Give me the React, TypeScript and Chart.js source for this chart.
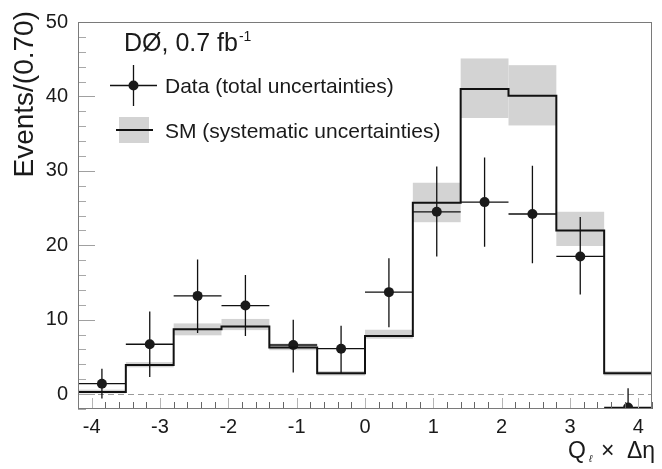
import React, { useEffect, useRef } from "react";
import { Chart, registerables } from "chart.js";

Chart.register(...registerables);

// ---- data ----
const binEdges = [-4.2, -3.5, -2.8, -2.1, -1.4, -0.7, 0, 0.7, 1.4, 2.1, 2.8, 3.5, 4.2];
const smValues = [0.3, 3.9, 8.7, 9.1, 6.25, 2.8, 7.8, 25.7, 41.0, 40.1, 22.0, 2.8];
const smLow = [0.1, 3.6, 7.9, 8.6, 5.9, 2.5, 7.45, 23.1, 37.1, 36.1, 19.9, 2.5];
const smHigh = [0.6, 4.3, 9.5, 10.1, 6.8, 3.1, 8.65, 28.4, 45.1, 44.2, 24.5, 3.1];
const dataValues = [1.4, 6.7, 13.2, 11.9, 6.6, 6.1, 13.7, 24.5, 25.8, 24.2, 18.5, -1.8];
const dataLow = [-0.6, 2.3, 8.2, 7.8, 2.9, 2.8, 9.0, 18.5, 19.8, 17.6, 13.4, -4.0];
const dataHigh = [3.4, 11.1, 18.1, 16.0, 10.0, 9.2, 18.25, 30.6, 31.8, 30.7, 23.8, 0.8];
const xTickValues = [-4, -3, -2, -1, 0, 1, 2, 3, 4];
const yTickValues = [0, 10, 20, 30, 40, 50];

const X_MIN = -4.2;
const X_MAX = 4.2;
const Y_MIN = -2;
const Y_MAX = 50;

const FONT = '"Liberation Sans", Arial, Helvetica, sans-serif';

const binCenters = binEdges.slice(0, -1).map((e, i) => (e + binEdges[i + 1]) / 2);

const decorPlugin = {
  id: "decor",
  beforeDatasetsDraw(chart: any) {
    const { ctx, chartArea: a, scales } = chart;
    const x = scales.x;
    const y = scales.y;
    ctx.save();
    ctx.beginPath();
    ctx.rect(a.left, a.top, a.right - a.left, a.bottom - a.top);
    ctx.clip();
    // systematic bands
    ctx.fillStyle = "#d3d3d3";
    for (let i = 0; i < smValues.length; i++) {
      const x0 = x.getPixelForValue(binEdges[i]);
      const x1 = x.getPixelForValue(binEdges[i + 1]);
      const yh = y.getPixelForValue(smHigh[i]);
      const yl = y.getPixelForValue(smLow[i]);
      ctx.fillRect(x0, yh, x1 - x0, yl - yh);
    }
    // dashed zero line
    const y0 = Math.round(y.getPixelForValue(0)) + 0.5;
    ctx.strokeStyle = "#9a9a9a";
    ctx.lineWidth = 1;
    ctx.setLineDash([6, 4]);
    ctx.beginPath();
    ctx.moveTo(a.left, y0);
    ctx.lineTo(a.right, y0);
    ctx.stroke();
    ctx.setLineDash([]);
    // error bars
    ctx.strokeStyle = "#111";
    ctx.lineWidth = 1.3;
    for (let i = 0; i < dataValues.length; i++) {
      const cx = x.getPixelForValue(binCenters[i]);
      const cy = y.getPixelForValue(dataValues[i]);
      ctx.beginPath();
      ctx.moveTo(cx, y.getPixelForValue(dataLow[i]));
      ctx.lineTo(cx, y.getPixelForValue(dataHigh[i]));
      ctx.moveTo(x.getPixelForValue(binEdges[i]), cy);
      ctx.lineTo(x.getPixelForValue(binEdges[i + 1]), cy);
      ctx.stroke();
    }
    ctx.restore();
  },
  afterDraw(chart: any) {
    const { ctx, chartArea: a, scales } = chart;
    const x = scales.x;
    const y = scales.y;
    ctx.save();
    // y ticks (inside)
    ctx.lineWidth = 1;
    for (let k = 0; k <= 26; k++) {
      const v = Y_MIN + 2 * k;
      const py = Math.round(y.getPixelForValue(v)) + 0.5;
      const major = v % 10 === 0;
      ctx.strokeStyle = major ? "#a0a0a0" : "#a8a8a8";
      ctx.beginPath();
      ctx.moveTo(a.left, py);
      ctx.lineTo(a.left + (major ? 17 : 8), py);
      ctx.stroke();
    }
    // x ticks (inside)
    for (let k = 0; k <= 42; k++) {
      const v = Math.round((X_MIN + 0.2 * k) * 10) / 10;
      const px = Math.round(x.getPixelForValue(v)) + 0.5;
      const major = Math.abs(v - Math.round(v)) < 1e-6;
      ctx.strokeStyle = major ? "#b5b5b5" : "#666";
      ctx.beginPath();
      ctx.moveTo(px, a.bottom);
      ctx.lineTo(px, a.bottom - (major ? 11 : 7));
      ctx.stroke();
    }
    // frame
    ctx.strokeStyle = "#7a7a7a";
    ctx.lineWidth = 1;
    ctx.strokeRect(a.left + 0.5, a.top + 0.5, a.right - a.left - 1, a.bottom - a.top - 1);

    // texts
    ctx.fillStyle = "#1a1a1a";
    ctx.textBaseline = "alphabetic";
    ctx.textAlign = "left";
    ctx.font = `25px ${FONT}`;
    ctx.fillText("DØ, 0.7 fb", 124, 51);
    const w = ctx.measureText("DØ, 0.7 fb").width;
    ctx.font = `14px ${FONT}`;
    ctx.fillText("-1", 124 + w + 1, 41);

    // legend: data
    ctx.strokeStyle = "#111";
    ctx.lineWidth = 1.3;
    ctx.beginPath();
    ctx.moveTo(110, 85.5);
    ctx.lineTo(157, 85.5);
    ctx.moveTo(133.5, 65);
    ctx.lineTo(133.5, 106);
    ctx.stroke();
    ctx.fillStyle = "#1a1a1a";
    ctx.beginPath();
    ctx.arc(133.5, 85.5, 5, 0, Math.PI * 2);
    ctx.fill();
    ctx.font = `21px ${FONT}`;
    ctx.fillText("Data (total uncertainties)", 165, 93);

    // legend: SM
    ctx.fillStyle = "#d3d3d3";
    ctx.fillRect(119, 117, 30, 26);
    ctx.strokeStyle = "#111";
    ctx.lineWidth = 2;
    ctx.beginPath();
    ctx.moveTo(116, 130);
    ctx.lineTo(153, 130);
    ctx.stroke();
    ctx.fillStyle = "#1a1a1a";
    ctx.fillText("SM (systematic uncertainties)", 165, 138);

    // y title
    ctx.save();
    ctx.translate(33, 11);
    ctx.rotate(-Math.PI / 2);
    ctx.textAlign = "right";
    ctx.font = `28px ${FONT}`;
    ctx.fillText("Events/(0.70)", 0, 0);
    ctx.restore();

    // x title
    ctx.textAlign = "left";
    ctx.font = `23px ${FONT}`;
    ctx.fillText("Q", 568, 458);
    ctx.font = `italic 10px ${FONT}`;
    ctx.fillText("ℓ", 589, 462);
    ctx.font = `23px ${FONT}`;
    ctx.fillText("×", 601, 458);
    ctx.fillText("Δη", 627, 458);

    ctx.restore();
  },
};

export default function App() {
  const ref = useRef<HTMLCanvasElement | null>(null);

  useEffect(() => {
    if (!ref.current) return;
    const smLine = binEdges.map((e, i) => ({ x: e, y: smValues[Math.min(i, smValues.length - 1)] }));
    const points = binCenters.map((c, i) => ({ x: c, y: dataValues[i] }));
    const chart = new Chart(ref.current, {
      type: "scatter",
      data: {
        datasets: [
          {
            type: "line",
            label: "SM",
            data: smLine,
            stepped: "before",
            borderColor: "#111",
            borderWidth: 2,
            pointRadius: 0,
            fill: false,
          } as any,
          {
            type: "scatter",
            label: "Data",
            data: points,
            pointRadius: 5,
            pointBackgroundColor: "#1a1a1a",
            pointBorderWidth: 0,
            borderWidth: 0,
          } as any,
        ],
      },
      options: {
        responsive: false,
        animation: false,
        layout: { padding: { top: 21, right: 10, left: 0, bottom: 0 } },
        plugins: { legend: { display: false }, tooltip: { enabled: false } },
        scales: {
          x: {
            type: "linear",
            min: X_MIN,
            max: X_MAX,
            grid: { display: false, drawTicks: false },
            border: { display: false },
            afterBuildTicks: (s: any) => {
              s.ticks = xTickValues.map((v) => ({ value: v }));
            },
            afterFit: (s: any) => {
              s.height = 60;
            },
            ticks: {
              padding: 6,
              autoSkip: false,
              maxRotation: 0,
              color: "#1a1a1a",
              font: { family: FONT, size: 20 },
              callback: (v: any) => String(v),
            },
          },
          y: {
            type: "linear",
            min: Y_MIN,
            max: Y_MAX,
            grid: { display: false, drawTicks: false },
            border: { display: false },
            afterBuildTicks: (s: any) => {
              s.ticks = yTickValues.map((v) => ({ value: v }));
            },
            afterFit: (s: any) => {
              s.width = 78;
            },
            ticks: {
              padding: 10,
              color: "#1a1a1a",
              font: { family: FONT, size: 20 },
              callback: (v: any) => String(v),
            },
          },
        },
      },
      plugins: [decorPlugin],
    });
    return () => chart.destroy();
  }, []);

  return (
    <div style={{ position: "fixed", left: 0, top: 0, width: 662, height: 469, background: "#fff" }}>
      <canvas ref={ref} width={662} height={469} style={{ display: "block" }} />
    </div>
  );
}
